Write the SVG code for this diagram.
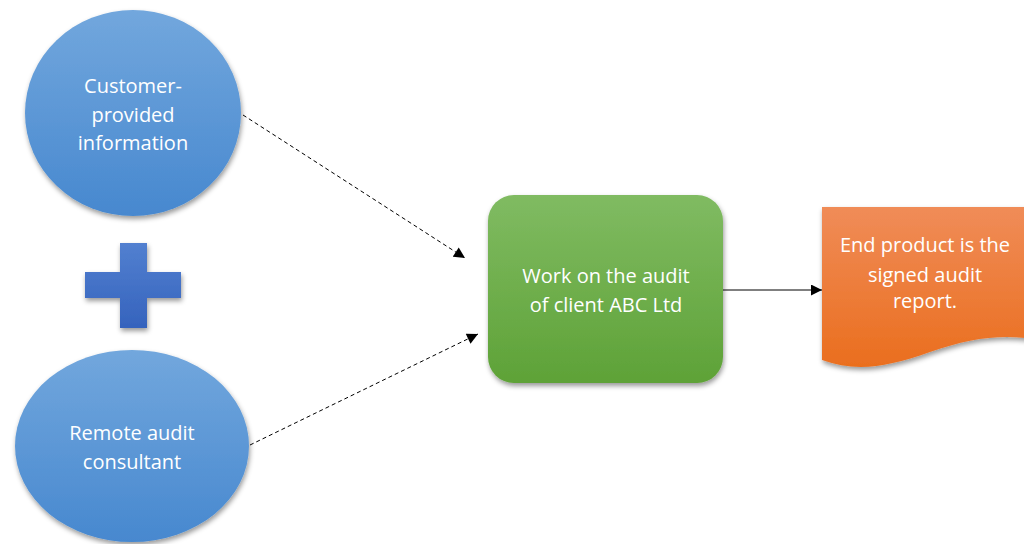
<svg xmlns="http://www.w3.org/2000/svg" width="1024" height="544" viewBox="0 0 1024 544">
<defs>
<linearGradient id="gBlue" x1="0" y1="0" x2="0" y2="1"><stop offset="0" stop-color="#72a7dd"/><stop offset="1" stop-color="#4788cf"/></linearGradient>
<linearGradient id="gPlus" x1="0" y1="0" x2="0" y2="1"><stop offset="0" stop-color="#5280d0"/><stop offset="1" stop-color="#3563bd"/></linearGradient>
<linearGradient id="gGreen" x1="0" y1="0" x2="0" y2="1"><stop offset="0" stop-color="#80bb62"/><stop offset="1" stop-color="#5ea237"/></linearGradient>
<linearGradient id="gOrange" x1="0" y1="0" x2="0" y2="1"><stop offset="0" stop-color="#f08c58"/><stop offset="1" stop-color="#ea6e1e"/></linearGradient>
<filter id="sh" x="-10%" y="-10%" width="130%" height="130%"><feDropShadow dx="1" dy="3" stdDeviation="2.5" flood-color="#000" flood-opacity="0.4"/></filter>
<marker id="ah" viewBox="0 0 10 10" refX="10" refY="5" markerWidth="12" markerHeight="11" markerUnits="userSpaceOnUse" orient="auto"><path d="M0,0 L10,5 L0,10 Z" fill="#000"/></marker>
</defs>
<style>
text{font-family:"Open Sans","Liberation Sans",sans-serif;font-size:20px;fill:#fff;text-anchor:middle}
.dash{stroke:#000;stroke-width:1;stroke-dasharray:4 3;fill:none}
.solid{stroke:#000;stroke-width:1;fill:none}
</style>
<g id="connectors">
<line class="dash" x1="243" y1="115" x2="465" y2="258" marker-end="url(#ah)"/>
<line class="dash" x1="250" y1="445" x2="478" y2="334" marker-end="url(#ah)"/>
<line class="solid" x1="723" y1="290" x2="822" y2="290" marker-end="url(#ah)"/>
</g>
<g id="customer-info">
<ellipse cx="133" cy="113" rx="108" ry="103" fill="url(#gBlue)" filter="url(#sh)"/>
<text x="133" y="93">Customer-</text>
<text x="133" y="122">provided</text>
<text x="133" y="150">information</text>
</g>
<g id="plus">
<path d="M120,243 H147 V272 H181 V298 H147 V328 H120 V298 H85 V272 H120 Z" fill="url(#gPlus)" filter="url(#sh)"/>
</g>
<g id="remote-consultant">
<ellipse cx="132" cy="446" rx="117" ry="96" fill="url(#gBlue)" filter="url(#sh)"/>
<text x="132" y="440">Remote audit</text>
<text x="132" y="469">consultant</text>
</g>
<g id="audit-work">
<rect x="488" y="195" width="235" height="188" rx="26" fill="url(#gGreen)" filter="url(#sh)"/>
<text x="606" y="283">Work on the audit</text>
<text x="606" y="312">of client ABC Ltd</text>
</g>
<g id="end-product">
<path d="M822,207 H1034 V339 C1000,334 970,338 930,352 C885,368 855,372 822,360 Z" fill="url(#gOrange)" filter="url(#sh)"/>
<text x="925" y="252">End product is the</text>
<text x="925" y="282">signed audit</text>
<text x="925" y="308">report.</text>
</g>
</svg>
